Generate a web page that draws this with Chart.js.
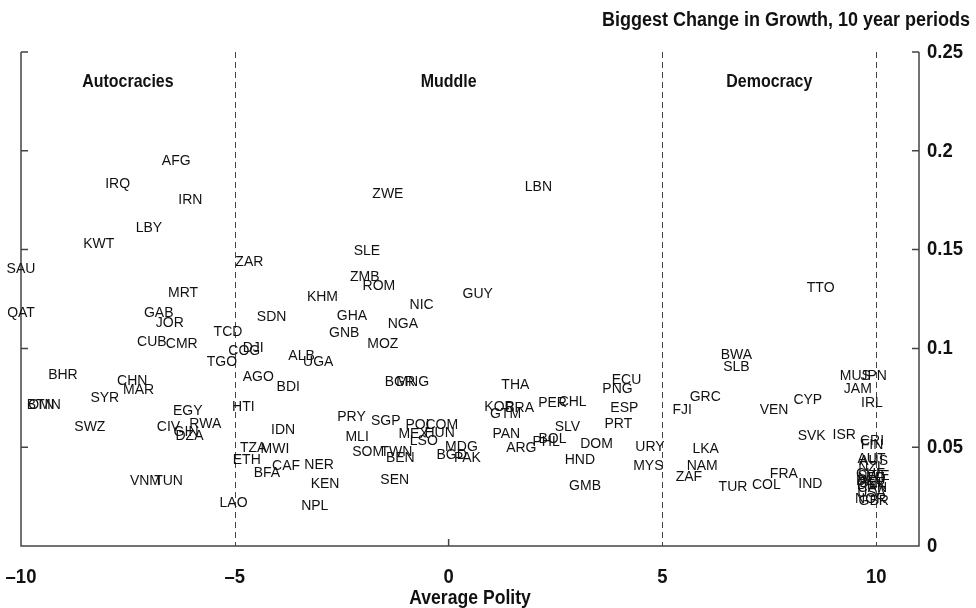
<!DOCTYPE html>
<html>
<head>
<meta charset="utf-8">
<script src="https://cdn.jsdelivr.net/npm/chart.js@4"></script>
<style>
  html, body { margin: 0; padding: 0; background: #fff; }
  #wrap { width: 976px; height: 608px; }
</style>
</head>
<body>
<div id="wrap"><canvas id="polityChart" width="976" height="608"></canvas></div>
<script>
// country codes, average polity (x) and biggest change in growth (y)
const countries = [
  'AFG', 'IRQ', 'IRN', 'LBY', 'KWT', 'SAU', 'MRT', 'QAT', 'GAB', 'JOR',
  'CUB', 'CMR', 'TCD', 'TGO', 'BHR', 'CHN', 'MAR', 'SYR', 'BTN', 'OMN',
  'SWZ', 'EGY', 'CIV', 'RWA', 'GIN', 'DZA', 'VNM', 'TUN', 'LAO', 'ZAR',
  'ZWE', 'SLE', 'ZMB', 'ROM', 'KHM', 'NIC', 'SDN', 'GHA', 'NGA', 'GNB',
  'MOZ', 'COG', 'DJI', 'ALB', 'UGA', 'AGO', 'BDI', 'BGR', 'MNG', 'HTI',
  'PRY', 'SGP', 'IDN', 'MLI', 'POL', 'COM', 'MEX', 'HUN', 'LSO', 'TZA',
  'MWI', 'SOM', 'TWN', 'BEN', 'ETH', 'CAF', 'BFA', 'NER', 'KEN', 'SEN',
  'NPL', 'MDG', 'BGD', 'PAK', 'LBN', 'GUY', 'THA', 'KOR', 'BRA', 'GTM',
  'PER', 'CHL', 'ECU', 'PNG', 'ESP', 'PRT', 'SLV', 'PAN', 'BOL', 'PHL',
  'DOM', 'ARG', 'HND', 'URY', 'MYS', 'GMB', 'FJI', 'TTO', 'BWA', 'SLB',
  'MUS', 'JPN', 'JAM', 'IRL', 'GRC', 'VEN', 'CYP', 'SVK', 'ISR', 'CRI',
  'FIN', 'LKA', 'NAM', 'ZAF', 'TUR', 'COL', 'FRA', 'IND', 'AUT', 'AUS',
  'NZL', 'CHE', 'SWE', 'NLD', 'DEU', 'BEL', 'DNK', 'CAN', 'USA', 'NOR',
  'GBR'
];
const polity = [
  -6.37, -7.74, -6.04, -7.01, -8.18, -10.0, -6.21, -10.0, -6.78, -6.52,
  -6.94, -6.24, -5.16, -5.30, -9.02, -7.40, -7.25, -8.04, -9.54, -9.45,
  -8.39, -6.10, -6.55, -5.69, -6.14, -6.06, -7.09, -6.55, -5.03, -4.66,
  -1.42, -1.91, -1.96, -1.63, -2.95, -0.63, -4.14, -2.26, -1.07, -2.44,
  -1.54, -4.78, -4.57, -3.44, -3.05, -4.45, -3.75, -1.14, -0.84, -4.80,
  -2.27, -1.47, -3.87, -2.14, -0.68, -0.16, -0.82, -0.21, -0.58, -4.57,
  -4.06, -1.88, -1.22, -1.13, -4.72, -3.80, -4.25, -3.03, -2.89, -1.26,
  -3.13, 0.30, 0.07, 0.44, 2.10, 0.68, 1.56, 1.19, 1.66, 1.33,
  2.43, 2.90, 4.16, 3.95, 4.11, 3.97, 2.78, 1.35, 2.43, 2.28,
  3.46, 1.70, 3.07, 4.71, 4.67, 3.19, 5.46, 8.70, 6.73, 6.73,
  9.51, 9.94, 9.57, 9.90, 6.00, 7.61, 8.40, 8.49, 9.25, 9.90,
  9.90, 6.01, 5.93, 5.62, 6.65, 7.43, 7.84, 8.46, 9.89, 9.94,
  9.89, 9.87, 9.94, 9.89, 9.87, 9.91, 9.89, 9.91, 9.89, 9.87,
  9.94
];
const growth = [
  0.195, 0.183, 0.175, 0.161, 0.153, 0.140, 0.128, 0.118, 0.118, 0.113,
  0.103, 0.102, 0.108, 0.093, 0.0865, 0.0835, 0.079, 0.0747, 0.0714, 0.0714,
  0.060, 0.0683, 0.060, 0.0616, 0.0577, 0.0557, 0.033, 0.0329, 0.0218, 0.1436,
  0.178, 0.149, 0.136, 0.1316, 0.126, 0.122, 0.116, 0.1164, 0.1123, 0.1076,
  0.1024, 0.0987, 0.100, 0.0963, 0.0928, 0.0854, 0.0806, 0.083, 0.083, 0.0705,
  0.0651, 0.0633, 0.0587, 0.055, 0.0612, 0.0612, 0.0567, 0.0572, 0.0531, 0.0494,
  0.0489, 0.0474, 0.0477, 0.0444, 0.0435, 0.0405, 0.0368, 0.041, 0.0314, 0.0334,
  0.0204, 0.0501, 0.046, 0.0445, 0.1815, 0.1275, 0.0815, 0.0705, 0.070, 0.0667,
  0.0725, 0.0727, 0.084, 0.0793, 0.0697, 0.0617, 0.060, 0.0567, 0.0541, 0.0528,
  0.0515, 0.0494, 0.0432, 0.050, 0.0405, 0.0304, 0.0688, 0.1304, 0.0967, 0.0907,
  0.086, 0.086, 0.0793, 0.0722, 0.0752, 0.0688, 0.0739, 0.0558, 0.0563, 0.0531,
  0.0511, 0.0489, 0.0405, 0.0348, 0.030, 0.0309, 0.0364, 0.0312, 0.044, 0.043,
  0.040, 0.0364, 0.0354, 0.0344, 0.0329, 0.0319, 0.0309, 0.0294, 0.0268, 0.0238,
  0.0228
];

const xTicks = [-10, -5, 0, 5, 10];
const yTicks = [0, 0.05, 0.1, 0.15, 0.2, 0.25];
const dividers = [-5, 5, 10];
const regionNames = ['Autocracies', 'Muddle', 'Democracy'];
const regionCenters = [-7.5, 0, 7.5];
const regionLabelY = 0.235;
const chartTitle = 'Biggest Change in Growth, 10 year periods';
const xAxisTitle = 'Average Polity';

const boldFont = "'Liberation Sans', Arial, sans-serif";
const axisColor = '#444';
const textColor = '#111';

// texte gras "condensé" : on écrase horizontalement
function narrowText(ctx, text, px, py, size, align, squeeze) {
  ctx.save();
  ctx.translate(px, py);
  ctx.scale(squeeze, 1);
  ctx.font = 'bold ' + size + 'px ' + boldFont;
  ctx.textAlign = align;
  ctx.textBaseline = 'middle';
  ctx.fillStyle = textColor;
  ctx.fillText(text, 0, 0);
  ctx.restore();
}

// cadre, traits et séparateurs pointillés
const framePlugin = {
  id: 'frame',
  beforeDatasetsDraw(chart) {
    const { ctx, scales: { x, y } } = chart;
    const xL = x.getPixelForValue(x.min);
    const xR = x.getPixelForValue(x.max);
    const yT = y.getPixelForValue(y.max);
    const yB = y.getPixelForValue(0);
    ctx.save();
    ctx.strokeStyle = axisColor;
    ctx.lineWidth = 1.5;
    ctx.beginPath();
    ctx.moveTo(xL, yT); ctx.lineTo(xL, yB); ctx.lineTo(xR, yB); ctx.lineTo(xR, yT);
    yTicks.forEach(v => {
      const py = y.getPixelForValue(v);
      ctx.moveTo(xL, py); ctx.lineTo(xL + 7, py);
      ctx.moveTo(xR - 7, py); ctx.lineTo(xR, py);
    });
    xTicks.forEach(v => {
      if (v === x.min || dividers.includes(v)) return;
      const px = x.getPixelForValue(v);
      ctx.moveTo(px, yB); ctx.lineTo(px, yB - 7);
    });
    ctx.stroke();

    ctx.lineWidth = 1;
    ctx.setLineDash([6, 4]);
    ctx.beginPath();
    dividers.forEach(v => {
      const px = Math.round(x.getPixelForValue(v)) + 0.5;
      ctx.moveTo(px, yT); ctx.lineTo(px, yB);
    });
    ctx.stroke();
    ctx.restore();
  },
  afterDatasetsDraw(chart) {
    const { ctx, scales: { x, y } } = chart;
    const yB = y.getPixelForValue(0);
    ctx.save();
    // codes pays
    ctx.fillStyle = textColor;
    ctx.font = "14px 'Liberation Sans', Arial, sans-serif";
    ctx.textAlign = 'center';
    ctx.textBaseline = 'middle';
    chart.getDatasetMeta(0).data.forEach((pt, i) => {
      ctx.fillText(countries[i], pt.x, pt.y);
    });
    ctx.restore();

    // régions
    regionNames.forEach((name, i) => {
      narrowText(ctx, name, x.getPixelForValue(regionCenters[i]), y.getPixelForValue(regionLabelY), 19, 'center', 0.84);
    });
    // graduations
    xTicks.forEach(v => {
      narrowText(ctx, String(v).replace('-', '\u2013'), x.getPixelForValue(v), yB + 31, 21, 'center', 0.88);
    });
    yTicks.forEach(v => {
      narrowText(ctx, String(v), x.right + 8, y.getPixelForValue(v), 21, 'left', 0.88);
    });
    // titres
    narrowText(ctx, xAxisTitle, (x.left + x.right) / 2, yB + 52, 20, 'center', 0.88);
    narrowText(ctx, chartTitle, 970, 20, 20, 'right', 0.9);
  }
};

new Chart(document.getElementById('polityChart'), {
  type: 'scatter',
  data: {
    datasets: [{
      data: countries.map((c, i) => ({ x: polity[i], y: growth[i] })),
      pointRadius: 0,
      pointHoverRadius: 0
    }]
  },
  options: {
    responsive: false,
    animation: false,
    layout: { padding: { left: 21, top: 52, right: 0, bottom: 0 } },
    plugins: {
      legend: { display: false },
      tooltip: { enabled: false }
    },
    scales: {
      x: {
        type: 'linear',
        min: -10,
        max: 11,
        grid: { display: false, drawTicks: false },
        border: { display: false },
        ticks: { display: false },
        afterBuildTicks: scale => { scale.ticks = xTicks.map(v => ({ value: v })); },
        afterFit: scale => { scale.height = 62; scale.paddingLeft = 0; scale.paddingRight = 0; }
      },
      y: {
        type: 'linear',
        position: 'right',
        min: 0,
        max: 0.25,
        grid: { display: false, drawTicks: false },
        border: { display: false },
        ticks: { display: false },
        afterBuildTicks: scale => { scale.ticks = yTicks.map(v => ({ value: v })); },
        afterFit: scale => { scale.width = 57; scale.paddingTop = 0; scale.paddingBottom = 0; }
      }
    }
  },
  plugins: [framePlugin]
});
</script>
</body>
</html>
